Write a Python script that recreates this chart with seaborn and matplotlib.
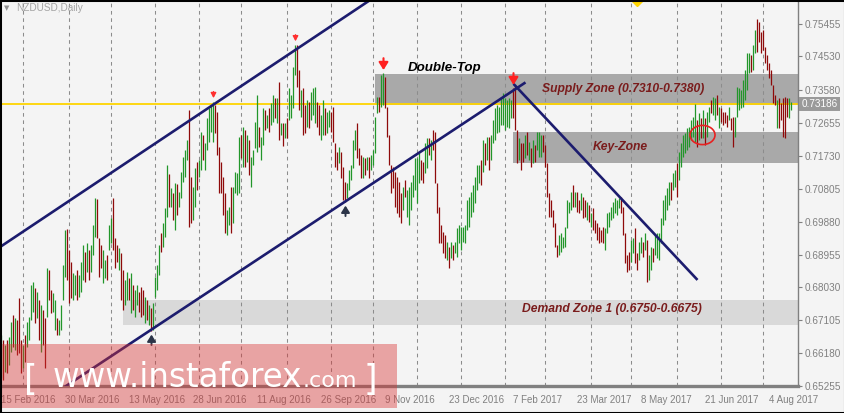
"""NZDUSD daily bar chart with supply / key / demand zones and trend channel."""
import matplotlib
matplotlib.use("Agg")
import matplotlib.pyplot as plt
from matplotlib.patches import Rectangle, Ellipse
import numpy as np
import pandas as pd
import seaborn as sns

# daily highs / lows, one value per trading day from 15 Feb 2016
highs = [
    .6669, .6655, .6641, .6655, .6663, .6705, .6725, .6717, .6711, .6774,
    .6655, .6641, .6669, .6705, .6719, .6810, .6818, .6801, .6790, .6768,
    .6753, .6739, .6717, .6858, .6852, .6796, .6787, .6768, .6717, .6711,
    .6753, .6866, .6965, .6967, .6908, .6874, .6843, .6838, .6852, .6838,
    .6874, .6922, .6902, .6928, .6908, .6922, .6979, .7055, .7052, .6942,
    .6922, .6908, .6880, .6894, .6979, .6998, .7055, .6942, .6922, .6914,
    .6900, .6852, .6824, .6846, .6830, .6843, .6810, .6796, .6810, .6790,
    .6804, .6796, .6776, .6768, .6753, .6745, .6759, .6832, .6866, .6922,
    .6956, .6984, .7027, .7147, .7122, .7083, .7068, .7097, .7094, .7071,
    .7128, .7170, .7190, .7218, .7302, .7114, .7086, .7139, .7156, .7162,
    .7240, .7232, .7209, .7280, .7308, .7316, .7325, .7316, .7297, .7198,
    .7156, .7114, .7069, .7021, .7029, .7086, .7086, .7128, .7125, .7226,
    .7232, .7254, .7246, .7232, .7218, .7170, .7190, .7268, .7345, .7254,
    .7226, .7308, .7302, .7288, .7308, .7322, .7345, .7336, .7336, .7381,
    .7266, .7266, .7266, .7280, .7364, .7345, .7423, .7485, .7485, .7415,
    .7359, .7364, .7316, .7331, .7325, .7353, .7364, .7367, .7325, .7316,
    .7288, .7331, .7308, .7297, .7302, .7297, .7311, .7209, .7184, .7198,
    .7184, .7142, .7100, .7097, .7133, .7147, .7218, .7246, .7266, .7195,
    .7176, .7170, .7167, .7170, .7170, .7176, .7190, .7283, .7339, .7339,
    .7401, .7406, .7395, .7311, .7232, .7147, .7142, .7128, .7114, .7100,
    .7069, .7086, .7105, .7077, .7086, .7100, .7119, .7167, .7167, .7181,
    .7162, .7156, .7209, .7223, .7223, .7218, .7246, .7240, .7097, .7029,
    .6979, .6959, .6950, .6931, .6917, .6931, .6922, .6931, .6970, .6979,
    .6973, .6973, .6979, .7049, .7058, .7071, .7091, .7114, .7147, .7147,
    .7162, .7218, .7209, .7226, .7226, .7232, .7274, .7308, .7316, .7311,
    .7339, .7350, .7336, .7331, .7336, .7331, .7364, .7373, .7246, .7223,
    .7209, .7209, .7232, .7240, .7212, .7195, .7218, .7204, .7240, .7240,
    .7232, .7232, .7204, .7153, .7069, .7049, .7021, .6984, .6922, .6950,
    .6956, .6945, .6973, .7049, .7043, .7071, .7091, .7071, .7071, .7049,
    .7069, .7058, .7049, .7043, .7035, .7012, .7027, .6993, .6984, .6973,
    .6965, .6973, .6970, .7012, .7015, .7029, .7043, .7055, .7049, .7055,
    .7058, .7029, .6956, .6894, .6902, .6936, .6942, .6970, .6900, .6931,
    .6945, .6931, .6956, .6936, .6894, .6917, .6914, .6950, .6956, .6956,
    .6998, .7049, .7063, .7083, .7100, .7100, .7125, .7133, .7153, .7184,
    .7209, .7232, .7237, .7252, .7254, .7274, .7283, .7319, .7274, .7294,
    .7280, .7302, .7280, .7297, .7311, .7331, .7339, .7336, .7345, .7311,
    .7308, .7297, .7297, .7288, .7311, .7280, .7283, .7283, .7367, .7364,
    .7359, .7387, .7415, .7463, .7463, .7457, .7485, .7528, .7558, .7550,
    .7522, .7528, .7480, .7457, .7435, .7415, .7373, .7345, .7331, .7336,
    .7322, .7336, .7339, .7336, .7336, .7325,
]
lows = [
    .6548, .6542, .6565, .6562, .6585, .6621, .6635, .6627, .6613, .6619,
    .6562, .6576, .6593, .6635, .6655, .6711, .6734, .6703, .6717, .6655,
    .6621, .6641, .6576, .6719, .6768, .6731, .6734, .6683, .6669, .6669,
    .6683, .6768, .6832, .6824, .6759, .6773, .6768, .6782, .6768, .6776,
    .6790, .6824, .6818, .6846, .6824, .6846, .6894, .6945, .6942, .6832,
    .6858, .6815, .6830, .6824, .6908, .6928, .6908, .6858, .6874, .6852,
    .6768, .6739, .6753, .6768, .6768, .6731, .6739, .6719, .6753, .6734,
    .6719, .6725, .6703, .6711, .6697, .6680, .6683, .6776, .6796, .6838,
    .6902, .6917, .6945, .7001, .7029, .7029, .6993, .6965, .7007, .7029,
    .7055, .7099, .7114, .7162, .6973, .6984, .6993, .7029, .7077, .7114,
    .7133, .7162, .7133, .7190, .7212, .7240, .7212, .7237, .7176, .7069,
    .7069, .7007, .6956, .6950, .6979, .6956, .6984, .7069, .7063, .7069,
    .7167, .7142, .7142, .7156, .7119, .7086, .7147, .7195, .7184, .7198,
    .7162, .7204, .7246, .7252, .7240, .7260, .7268, .7280, .7266, .7218,
    .7232, .7201, .7223, .7223, .7274, .7280, .7308, .7401, .7367, .7302,
    .7283, .7232, .7237, .7254, .7252, .7274, .7288, .7266, .7254, .7232,
    .7218, .7232, .7232, .7237, .7254, .7240, .7212, .7142, .7133, .7153,
    .7111, .7049, .7043, .7055, .7077, .7105, .7139, .7190, .7167, .7147,
    .7111, .7111, .7119, .7133, .7111, .7133, .7147, .7181, .7294, .7297,
    .7311, .7316, .7308, .7226, .7147, .7069, .7083, .7029, .7012, .7001,
    .6984, .7021, .7058, .7001, .6979, .7021, .7058, .7077, .7041, .7097,
    .7105, .7097, .7125, .7139, .7176, .7162, .7190, .7097, .7012, .6928,
    .6928, .6900, .6886, .6880, .6858, .6886, .6880, .6900, .6889, .6928,
    .6908, .6931, .6928, .6965, .6973, .7001, .7015, .7041, .7077, .7097,
    .7091, .7128, .7147, .7162, .7133, .7162, .7209, .7218, .7237, .7240,
    .7260, .7260, .7246, .7254, .7252, .7280, .7280, .7246, .7153, .7162,
    .7133, .7156, .7167, .7176, .7162, .7142, .7153, .7156, .7190, .7170,
    .7170, .7184, .7142, .7058, .7001, .7001, .6973, .6917, .6889, .6894,
    .6902, .6914, .6917, .6970, .7012, .7021, .7029, .7029, .7015, .7012,
    .7021, .6998, .7001, .6993, .6987, .6973, .6965, .6956, .6936, .6928,
    .6931, .6928, .6908, .6956, .6973, .6993, .6998, .7012, .7007, .7027,
    .7012, .6950, .6872, .6846, .6852, .6874, .6900, .6872, .6852, .6880,
    .6900, .6889, .6908, .6818, .6824, .6852, .6874, .6894, .6886, .6880,
    .6928, .6979, .6993, .7021, .7035, .7049, .7077, .7086, .7058, .7105,
    .7142, .7170, .7181, .7190, .7198, .7218, .7226, .7212, .7198, .7218,
    .7223, .7223, .7204, .7226, .7268, .7294, .7288, .7274, .7288, .7252,
    .7268, .7260, .7266, .7254, .7274, .7246, .7198, .7226, .7283, .7302,
    .7308, .7311, .7331, .7359, .7406, .7409, .7415, .7463, .7466, .7494,
    .7463, .7471, .7435, .7415, .7392, .7373, .7322, .7316, .7252, .7252,
    .7274, .7226, .7223, .7283, .7280, .7302,
]
# u = bullish bar, d = bearish bar
direction = (
    "ududuududd" "duduuuudud" "uddudduudu" "uuuddduudu" "uududuuudd"
    "duuduudddu" "dduududuud" "ddududuuuu" "duuudududu" "uuuudduudu"
    "uduuuuuddd" "ddduuduuuu" "dududuuuud" "uududuudud" "ududuuuudd"
    "udduduuudd" "uuduuddddu" "ddduuuuudd" "dududuuuud" "uudddddddd"
    "duduuuuuuu" "dduududddd" "dddududuuu" "uuuuuuuuuu" "dududuuuuu"
    "uuuuuudddu" "ddudududuu" "uddddddddu" "uuuuuududd" "uddududddd"
    "dduuuuuuuu" "ddddduuddu" "ududuuduuu" "uuuuuduudu" "uuuuuuuudu"
    "duduuduudu" "ddddudduuu" "uuuuuduudd" "ddddddddud" "dddduu"
)
dates = pd.bdate_range("2016-02-15", periods=len(highs))

last_price = 0.73186
price_ticks = [0.75455, 0.74530, 0.73580, 0.72655, 0.71730, 0.70805,
               0.69880, 0.68955, 0.68030, 0.67105, 0.66180, 0.65255]

# zones: (start date, lower price, upper price)
supply_zone = ("2016-11-02", 0.7316, 0.7404)
key_zone = ("2017-02-07", 0.7153, 0.7240)
demand_zone = ("2016-05-10", 0.6697, 0.6768)

# trend lines: two (date, price) anchors each
channel_top = [("2016-06-06", 0.7220), ("2016-09-12", 0.7483)]
channel_bottom = [("2016-03-28", 0.6517), ("2017-02-15", 0.7380)]
falling_line = [("2017-02-07", 0.7376), ("2017-06-15", 0.6824)]

top_marks_big = ["2016-11-08", "2017-02-07"]
top_marks_small = ["2016-07-12", "2016-09-07"]
bottom_marks = ["2016-05-30", "2016-10-12"]

n = len(highs)
assert len(lows) == n and len(direction) == n, (len(lows), len(direction), n)


def idx(d):
    return dates.get_loc(pd.Timestamp(d))


sns.set_style("white", {"axes.facecolor": "#f4f4f4", "figure.facecolor": "#f4f4f4"})
plt.rcParams["font.family"] = ["Liberation Sans", "DejaVu Sans"]

W, H = 845, 413
fig = plt.figure(figsize=(W / 100, H / 100), dpi=100)
ax = fig.add_axes([1 / W, 27 / H, 797 / W, 385 / H])
ymin, ymax = 0.65254, 0.76092
ax.set_xlim(-0.25, 398.25)
ax.set_ylim(ymin, ymax)

# zones
for (start, lo, hi), col in [(supply_zone, "#a9a9a9"), (key_zone, "#a9a9a9"),
                             (demand_zone, "#d9d9d9")]:
    x0 = idx(start)
    ax.add_patch(Rectangle((x0, lo), 400 - x0, hi - lo, facecolor=col,
                           edgecolor="none", zorder=1))

# month grid
month_starts = [i for i in range(1, n) if dates[i].month != dates[i - 1].month]
ax.vlines(month_starts, ymin, ymax, colors="#8c8c8c", linewidth=0.75,
          linestyles=(0, (3.5, 3.5)), zorder=1.5)

# price bars
x = np.arange(n)
cols = ["#22962a" if c == "u" else "#8e0a0a" for c in direction]
ax.vlines(x, lows, highs, colors=cols, linewidth=0.9, zorder=3)

ax.axhline(last_price, color="#ffd400", linewidth=1.3, zorder=2.5)

navy = "#1c1c6e"
(a, pa), (b, pb) = channel_top
ax.axline((idx(a), pa), (idx(b), pb), color=navy, linewidth=1.9, zorder=4)
for line in (channel_bottom, falling_line):
    (a, pa), (b, pb) = line
    ax.plot([idx(a), idx(b)], [pa, pb], color=navy, linewidth=1.9, zorder=4,
            solid_capstyle="butt")

# arrows
for d in top_marks_big:
    i = idx(d)
    ax.annotate("", xy=(i, highs[i] + 0.0001), xytext=(i, highs[i] + 0.0050),
                arrowprops=dict(arrowstyle="-|>,head_length=0.45,head_width=0.28",
                                color="#ff2020", lw=1.5), zorder=6)
for d in top_marks_small:
    i = idx(d)
    ax.annotate("", xy=(i, highs[i] + 0.0003), xytext=(i, highs[i] + 0.0037),
                arrowprops=dict(arrowstyle="-|>,head_length=0.3,head_width=0.16",
                                color="#ff3030", lw=1.0), zorder=6)
for d in bottom_marks:
    i = idx(d)
    ax.annotate("", xy=(i, lows[i] - 0.0002), xytext=(i, lows[i] - 0.0047),
                arrowprops=dict(arrowstyle="-|>,head_length=0.4,head_width=0.25",
                                color="#2b3448", lw=1.4), zorder=6)

ax.add_patch(Ellipse((350.5, 0.7232), 12.5, 0.0054, fill=False,
                     edgecolor="#e82020", linewidth=1.2, zorder=6))
ax.plot([318], [ymax], marker="D", markersize=5, color="#ffd400", zorder=6)

zone_txt = dict(color="#7a1c1c", fontsize=8.7, fontweight="bold",
                fontstyle="italic", va="center", ha="left", zorder=7)
ax.text(203, 0.7421, "Double-Top", color="black", fontsize=9.6,
        fontweight="bold", fontstyle="italic", va="center", ha="left", zorder=7)
ax.text(270.5, 0.7362, "Supply Zone (0.7310-0.7380)", **zone_txt)
ax.text(295.5, 0.7198, "Key-Zone", **zone_txt)
ax.text(260.5, 0.6741, "Demand Zone 1 (0.6750-0.6675)", **zone_txt)

# axes styling
grey = "#808080"
for s in ("left", "top"):
    ax.spines[s].set_visible(False)
ax.spines["right"].set_color(grey)
ax.spines["right"].set_linewidth(1.0)
ax.spines["bottom"].set_color(grey)
ax.spines["bottom"].set_linewidth(2.4)

ax.yaxis.tick_right()
ax.set_yticks(price_ticks)
ax.set_yticklabels([f"{v:.5f}" for v in price_ticks])
ax.tick_params(axis="y", direction="out", length=3, width=0.8, pad=2,
               colors=grey, labelsize=7.2)
tick_pos = list(range(0, n, 32))
ax.set_xticks(tick_pos)
ax.set_xticklabels([f"{dates[i].day} {dates[i]:%b %Y}" for i in tick_pos],
                   ha="left")
ax.tick_params(axis="x", direction="out", length=4, width=0.8, pad=2.5,
               colors=grey, labelsize=7.0)
ax.set_xlabel("")
ax.set_ylabel("")

ax.text(1.004, last_price, f"{last_price:.5f}", transform=ax.get_yaxis_transform(),
        color="white", fontsize=7.2, va="center", ha="left",
        bbox=dict(boxstyle="square,pad=0.22", facecolor="#9a9a9a", edgecolor="none"),
        clip_on=False, zorder=8)

fig.text(4 / W, 1 - 8 / H, "\u25BC", color="#8f8f8f", fontsize=5, va="center",
         family="DejaVu Sans")
fig.text(16 / W, 1 - 8 / H, "NZDUSD,Daily", color="#a3a3a3", fontsize=7.2,
         va="center")

# watermark
fig.add_artist(Rectangle((0, 5 / H), 397 / W, 64 / H, transform=fig.transFigure,
                         facecolor=(0.85, 0.2, 0.2), alpha=0.42,
                         edgecolor="none", zorder=10))
wm = dict(color="white", va="baseline", ha="left", zorder=11, family="DejaVu Sans")
fig.text(24 / W, 1 - 390 / H, "[", fontsize=25, **wm)
fig.text(53 / W, 1 - 387 / H, "www.instaforex", fontsize=23.5, **wm)
fig.text(303 / W, 1 - 387 / H, ".com", fontsize=16, **wm)
fig.text(364 / W, 1 - 390 / H, "]", fontsize=25, **wm)

fig.add_artist(Rectangle((0, 0), 1, 1, transform=fig.transFigure, fill=False,
                         edgecolor="black", linewidth=2.2, zorder=20))

fig.savefig("out.png", dpi=100)
plt.close(fig)
